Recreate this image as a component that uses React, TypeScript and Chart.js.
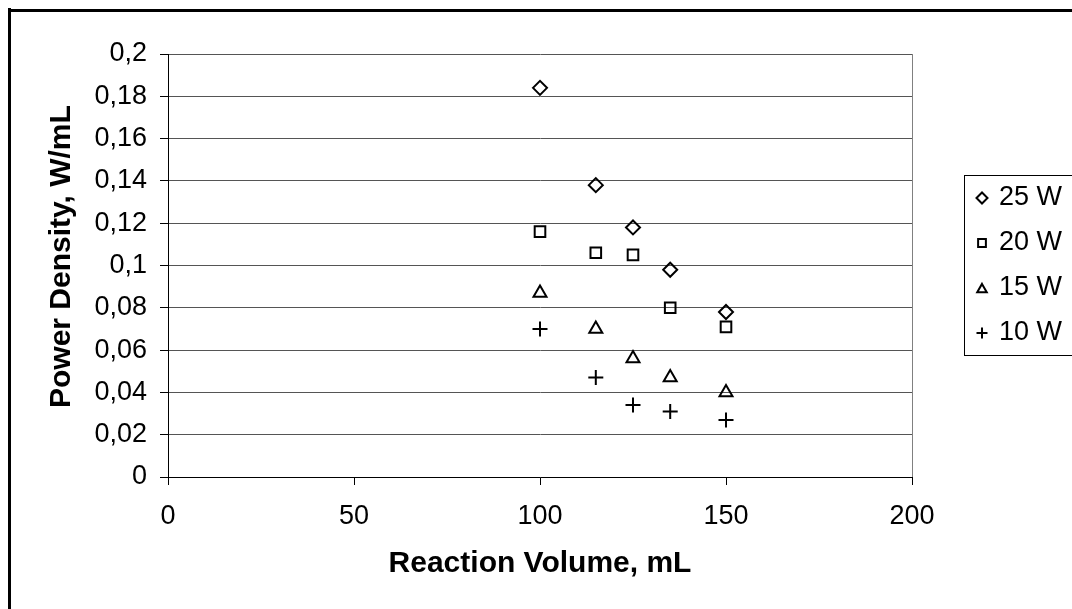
import React, { useEffect, useRef } from "react";
import { Chart, registerables } from "chart.js";

Chart.register(...registerables);

const volumes = [100, 115, 125, 135, 150];
const series25W = [0.184, 0.138, 0.118, 0.098, 0.078];
const series20W = [0.116, 0.106, 0.105, 0.080, 0.071];
const series15W = [0.087, 0.070, 0.056, 0.047, 0.040];
const series10W = [0.070, 0.047, 0.034, 0.031, 0.027];
const seriesLabels = ["25 W", "20 W", "15 W", "10 W"];
const seriesStyles = ["rectRot", "rect", "triangle", "cross"];
const xTitle = "Reaction Volume, mL";
const yTitle = "Power Density, W/mL";

const FONT = "'Liberation Sans', Arial, sans-serif";

function drawMarker(ctx: CanvasRenderingContext2D, style: string, x: number, y: number, r: number) {
  ctx.beginPath();
  if (style === "rectRot") {
    ctx.moveTo(x - r, y);
    ctx.lineTo(x, y - r);
    ctx.lineTo(x + r, y);
    ctx.lineTo(x, y + r);
    ctx.closePath();
  } else if (style === "rect") {
    const s = r * Math.SQRT1_2;
    ctx.rect(x - s, y - s, 2 * s, 2 * s);
  } else if (style === "triangle") {
    const h = r * 0.866;
    ctx.moveTo(x, y - r * 0.75);
    ctx.lineTo(x + h, y + r * 0.75);
    ctx.lineTo(x - h, y + r * 0.75);
    ctx.closePath();
  } else {
    ctx.moveTo(x - r, y);
    ctx.lineTo(x + r, y);
    ctx.moveTo(x, y - r);
    ctx.lineTo(x, y + r);
  }
  ctx.stroke();
}

const framePlugin = {
  id: "framePlugin",
  afterDraw(chart: any) {
    const { ctx, chartArea } = chart;
    ctx.save();
    // outer chart border (left and top visible, rest clipped)
    ctx.fillStyle = "#000";
    ctx.fillRect(0, 0, 3, chart.height);
    ctx.fillRect(0, 1, chart.width, 3);
    // plot area right border
    ctx.strokeStyle = "#808080";
    ctx.lineWidth = 1;
    ctx.beginPath();
    ctx.moveTo(Math.round(chartArea.right) + 0.5, chartArea.top);
    ctx.lineTo(Math.round(chartArea.right) + 0.5, chartArea.bottom);
    ctx.stroke();
    // y axis title
    ctx.save();
    ctx.translate(62, 400);
    ctx.rotate(-Math.PI / 2);
    ctx.font = `bold 30px ${FONT}`;
    ctx.fillStyle = "#000";
    ctx.textAlign = "left";
    ctx.textBaseline = "alphabetic";
    ctx.fillText(yTitle, 0, 0);
    ctx.restore();
    // legend box
    const lx = 956, ly = 167, lw = 200, lh = 180;
    ctx.strokeStyle = "#000";
    ctx.lineWidth = 1;
    ctx.strokeRect(lx + 0.5, ly + 0.5, lw, lh);
    ctx.font = `27px ${FONT}`;
    ctx.fillStyle = "#000";
    ctx.textBaseline = "middle";
    ctx.textAlign = "left";
    for (let i = 0; i < seriesLabels.length; i++) {
      const cy = 190 + i * 45;
      ctx.lineWidth = 2;
      ctx.strokeStyle = "#000";
      drawMarker(ctx, seriesStyles[i], 974, cy, 5.5);
      ctx.fillText(seriesLabels[i], 991, cy);
    }
    ctx.restore();
  },
};

export default function App() {
  const canvasRef = useRef<HTMLCanvasElement>(null);

  useEffect(() => {
    const canvas = canvasRef.current;
    if (!canvas) return;
    const allSeries = [series25W, series20W, series15W, series10W];
    const datasets = allSeries.map((vals, i) => ({
      label: seriesLabels[i],
      data: volumes.map((v, j) => ({ x: v, y: vals[j] })),
      pointStyle: seriesStyles[i] as any,
      pointRadius: i === 0 ? 7 : 7.5,
      pointBorderWidth: 2,
      borderColor: "#000",
      backgroundColor: "rgba(0,0,0,0)",
      pointBackgroundColor: "rgba(0,0,0,0)",
      pointBorderColor: "#000",
      showLine: false,
    }));
    const chart = new Chart(canvas, {
      type: "scatter",
      data: { datasets },
      options: {
        animation: false,
        responsive: false,
        layout: { padding: { left: 0, right: 160, top: 46, bottom: 0 } },
        plugins: { legend: { display: false }, tooltip: { enabled: false } },
        scales: {
          x: {
            type: "linear",
            min: 0,
            max: 200,
            ticks: {
              stepSize: 50,
              color: "#000",
              font: { family: FONT, size: 27 },
              padding: 15,
              maxRotation: 0,
            },
            grid: {
              drawOnChartArea: false,
              drawTicks: true,
              tickLength: 8,
              tickColor: "#000",
            },
            border: { display: true, color: "#000", width: 1 },
            title: {
              display: true,
              text: xTitle,
              color: "#000",
              font: { family: FONT, size: 30, weight: "bold" },
              padding: { top: 0, bottom: 27 },
            },
            afterFit(scale: any) {
              scale.height = 132;
            },
          },
          y: {
            type: "linear",
            min: 0,
            max: 0.2,
            ticks: {
              stepSize: 0.02,
              color: "#000",
              font: { family: FONT, size: 27 },
              padding: 13,
              callback: (v: any) => String(Math.round(Number(v) * 100) / 100).replace(".", ","),
            },
            grid: {
              color: "#555",
              lineWidth: 1,
              drawTicks: true,
              tickLength: 8,
              tickColor: "#000",
            },
            border: { display: true, color: "#000", width: 1 },
            title: { display: false, text: yTitle },
            afterFit(scale: any) {
              scale.width = 160;
            },
          },
        },
      },
      plugins: [framePlugin],
    });
    return () => chart.destroy();
  }, []);

  return (
    <div style={{ position: "fixed", left: 8, top: 8, width: 1064, height: 601, background: "#fff" }}>
      <canvas ref={canvasRef} width={1064} height={601} style={{ display: "block", width: 1064, height: 601 }} />
    </div>
  );
}
